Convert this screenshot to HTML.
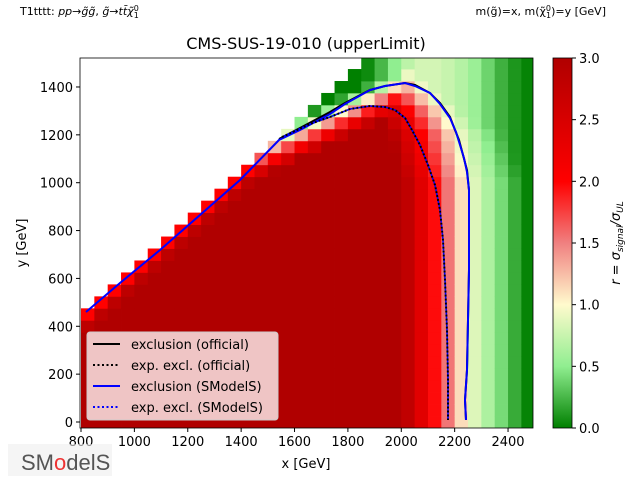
<!DOCTYPE html>
<html><head><meta charset="utf-8"><style>
body{margin:0;background:#fff;width:640px;height:480px;overflow:hidden}
svg{display:block;font-family:"DejaVu Sans","Liberation Sans",sans-serif}
</style></head><body>
<svg id="s" width="640" height="480" xmlns="http://www.w3.org/2000/svg">
<defs><linearGradient id="cb" x1="0" y1="1" x2="0" y2="0">
<stop offset="0" stop-color="#008000"/><stop offset="0.1667" stop-color="#90ee90"/>
<stop offset="0.3333" stop-color="#fffacd"/><stop offset="0.5" stop-color="#f08080"/>
<stop offset="0.6667" stop-color="#ff0000"/><stop offset="1" stop-color="#b00000"/>
</linearGradient>
<clipPath id="pc"><rect x="80" y="58" width="453" height="370"/></clipPath></defs>
<g id="cells" clip-path="url(#pc)"></g>
<g clip-path="url(#pc)" fill="none" stroke-width="2">
<polyline stroke="#000" points="279,139 300,128 330,112 345,103 370,90 385,86 405,83 415,85 430,93 440,103 450,117 455,130 459,140 463,155 467,170 469,190 469,230 469,270 468,320 467,370 465,400 466,420"/>
<polyline stroke="#00f" points="86,312 120,283 160,250 200,215 240,180 279,140 300,130 330,114 345,104 370,90 385,86 405,83 415,86 430,93 440,104 450,118 456,132 460,145 464,158 467,172 469,190 469,230 469,270 468,320 467,370 465,400 466,420"/>
<polyline stroke="#000" stroke-dasharray="2,2" points="282,137 310,124 330,117 350,109 370,106 385,107 395,110 405,118 412,130 420,145 428,165 435,185 440,210 443,240 445,280 447,330 448,380 448,420"/>
<polyline stroke="#00f" stroke-width="1.6" stroke-dasharray="2,2" stroke-dashoffset="2" points="282,137 310,124 330,117 350,109 370,106 385,107 395,110 405,118 412,130 420,145 428,165 435,185 440,210 443,240 445,280 447,330 448,380 448,420"/>
</g>
<rect x="80" y="58" width="453" height="370" fill="none" stroke="#000" stroke-width="0.8"/>
<g id="ticks" font-size="13" fill="#000"></g>
<text x="306" y="49" font-size="16" text-anchor="middle">CMS-SUS-19-010 (upperLimit)</text>
<text x="20" y="15" font-size="11">T1tttt: <tspan font-style="italic">pp</tspan>→<tspan font-style="italic">g̃g̃</tspan>, <tspan font-style="italic">g̃</tspan>→<tspan font-style="italic">tt̄χ̃</tspan><tspan font-size="8" dy="-4">0</tspan><tspan font-size="8" dx="-5" dy="7">1</tspan></text>
<text x="606" y="15" font-size="11" text-anchor="end">m(g̃)=x, m(χ̃<tspan font-size="8" dy="-4">0</tspan><tspan font-size="8" dx="-5" dy="7">1</tspan><tspan dy="-3">)=y [GeV]</tspan></text>
<text x="306" y="468" font-size="13" text-anchor="middle">x [GeV]</text>
<text transform="translate(26,243) rotate(-90)" font-size="13" text-anchor="middle">y [GeV]</text>
<rect x="553" y="58" width="19" height="370" fill="url(#cb)" stroke="#000" stroke-width="0.8"/>
<text transform="translate(620,243) rotate(-90)" font-size="13" text-anchor="middle" font-style="italic">r = σ<tspan font-size="9" dy="3">signal</tspan><tspan dy="-3">/σ</tspan><tspan font-size="9" dy="3">UL</tspan></text>
<rect x="87" y="332" width="191" height="88" rx="3" fill="#f2d0d0" fill-opacity="0.95" stroke="#ccc"/>
<g font-size="13">
<line x1="93" y1="344" x2="120" y2="344" stroke="#000" stroke-width="2"/><text x="131" y="349">exclusion (official)</text>
<line x1="93" y1="365" x2="120" y2="365" stroke="#000" stroke-width="2" stroke-dasharray="2,2.5"/><text x="131" y="370">exp. excl. (official)</text>
<line x1="93" y1="386" x2="120" y2="386" stroke="#00f" stroke-width="2"/><text x="131" y="391">exclusion (SModelS)</text>
<line x1="93" y1="407" x2="120" y2="407" stroke="#00f" stroke-width="2" stroke-dasharray="2,2.5"/><text x="131" y="412">exp. excl. (SModelS)</text>
</g>
<rect x="8" y="444" width="104" height="32" fill="#eee" opacity="0.6"/>
<text x="21" y="470" font-size="22" fill="#555" font-family="Liberation Sans Narrow,Liberation Sans,sans-serif">SM<tspan fill="#e33">o</tspan>delS</text>
</svg>
<script>
function px(X){return 81+(X-800)*0.2669;}
function py(Y){return 422-Y*0.2393;}
var stops=[[0,[0,128,0]],[0.5,[144,238,144]],[1,[255,250,205]],[1.5,[240,128,128]],[2,[255,0,0]],[3,[176,0,0]]];
function col(r){r=Math.max(0,Math.min(3,r));for(var i=0;i<stops.length-1;i++){var a=stops[i],b=stops[i+1];if(r<=b[0]){var t=(r-a[0])/(b[0]-a[0]);return "rgb("+a[1].map(function(v,k){return Math.round(v+(b[1][k]-v)*t)}).join(",")+")";}}return "rgb(176,0,0)";}
function interp(pts,v){if(v<=pts[0][0])return pts[0][1];for(var i=0;i<pts.length-1;i++){if(v<=pts[i+1][0]){var t=(v-pts[i][0])/(pts[i+1][0]-pts[i][0]);return pts[i][1]+(pts[i+1][1]-pts[i][1])*t;}}return pts[pts.length-1][1];}
var xbP=[[0,2240],[1000,2240],[1200,2200],[1300,2150],[1400,2060],[1500,1950]];
var gP=[[1850,0],[1875,0.05],[1925,0.25],[1975,0.5],[2025,0.7],[2075,0.8],[2125,0.8],[2200,0.72],[2275,0.55],[2325,0.38],[2375,0.22],[2425,0.1],[2475,0.02]];
var g=document.getElementById("cells"),h="";
for(var X=800;X<2500;X+=50){var xc=X+25;var ymax=Math.min(X-350,1500);
 for(var Y=0;Y<=ymax;Y+=50){
  var xb=interp(xbP,Y);var d=xb-xc;var rx=d>0?1+d/120:1+d/230;
  var yc=Math.min(xc-315,1180+(xc-1550)*0.533);if(xc>2000)yc=3000;
  var rd=1+(yc-Y)/60;var r=Math.min(rx,rd);
  var gg=xc<1850?0:interp(gP,xc); if(r<gg)r=gg;
  var x0=px(X),x1=px(X+50),y0=py(Y+25),y1=py(Y-25);
  h+='<rect x="'+x0.toFixed(2)+'" y="'+y0.toFixed(2)+'" width="'+(x1-x0+0.4).toFixed(2)+'" height="'+(y1-y0+0.4).toFixed(2)+'" fill="'+col(r)+'"/>';}}
g.innerHTML=h;
var t="";
[800,1000,1200,1400,1600,1800,2000,2200,2400].forEach(function(v){var x=px(v);t+='<line x1="'+x+'" y1="428" x2="'+x+'" y2="432" stroke="#000"/><text x="'+x+'" y="446" text-anchor="middle">'+v+'</text>';});
[0,200,400,600,800,1000,1200,1400].forEach(function(v){var y=py(v);t+='<line x1="76" y1="'+y+'" x2="80" y2="'+y+'" stroke="#000"/><text x="73" y="'+(y+5)+'" text-anchor="end">'+v+'</text>';});
[0,0.5,1,1.5,2,2.5,3].forEach(function(v){var y=428-v*370/3;t+='<line x1="572" y1="'+y+'" x2="576" y2="'+y+'" stroke="#000"/><text x="579" y="'+(y+5)+'">'+v.toFixed(1)+'</text>';});
document.getElementById("ticks").innerHTML=t;
</script>
</body></html>
